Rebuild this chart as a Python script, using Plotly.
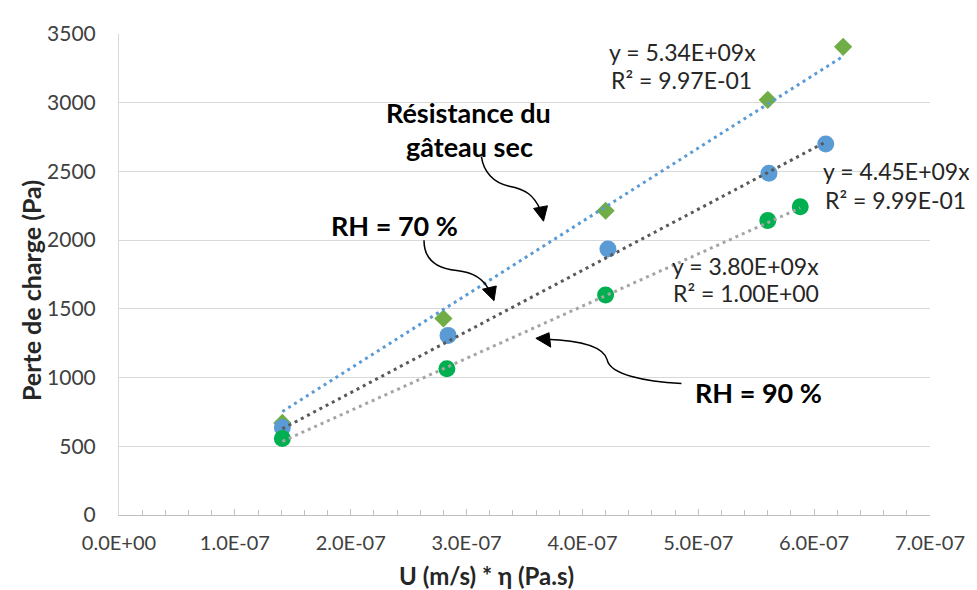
import plotly.graph_objects as go

# ---- data ----
x_dry = [1.41e-7, 2.80e-7, 4.20e-7, 5.60e-7, 6.25e-7]
y_dry = [670, 1430, 2214, 3021, 3407]
x_rh70 = [1.41e-7, 2.84e-7, 4.22e-7, 5.61e-7, 6.10e-7]
y_rh70 = [636, 1307, 1936, 2486, 2700]
x_rh90 = [1.41e-7, 2.83e-7, 4.20e-7, 5.60e-7, 5.88e-7]
y_rh90 = [557, 1064, 1600, 2143, 2243]
slopes = [5.34e9, 4.45e9, 3.80e9]
r2_labels = ["9.97E-01", "9.99E-01", "1.00E+00"]
x_tick_vals = [0, 1e-7, 2e-7, 3e-7, 4e-7, 5e-7, 6e-7, 7e-7]
x_tick_labels = ["0.0E+00", "1.0E-07", "2.0E-07", "3.0E-07", "4.0E-07", "5.0E-07", "6.0E-07", "7.0E-07"]
y_tick_vals = [0, 500, 1000, 1500, 2000, 2500, 3000, 3500]

# window geometry (page body has an 8px margin)
OFF = 8
WIN_W, WIN_H = 977, 590
L, R, T, B = 119, 938, 25, 515
FONT = "Lato"

def pp(x, y):
    return (x - L) / (R - L), (B - y) / (B - T)

def path(cmds):
    out = []
    for c in cmds:
        if isinstance(c, str):
            out.append(c)
        else:
            a, b = pp(*c)
            out.append(f"{a:.5f},{b:.5f}")
    return " ".join(out)

fig = go.Figure()

fig.add_trace(go.Scatter(x=x_dry, y=y_dry, mode="markers",
                         marker=dict(symbol="diamond", size=14, color="#70AD47"), showlegend=False))
fig.add_trace(go.Scatter(x=x_rh70, y=y_rh70, mode="markers",
                         marker=dict(symbol="circle", size=17, color="#5B9BD5"), showlegend=False))
fig.add_trace(go.Scatter(x=x_rh90, y=y_rh90, mode="markers",
                         marker=dict(symbol="circle", size=17, color="#00B050"), showlegend=False))

trend_colors = ["#5B9BD5", "#595959", "#A5A5A5"]
for xs, s, c in zip([x_dry, x_rh70, x_rh90], slopes, trend_colors):
    xt = [min(xs), max(xs)]
    yt = [s * v for v in xt]
    fig.add_trace(go.Scatter(x=xt, y=yt, mode="lines",
                             line=dict(color=c, width=3, dash="3px,4px"), showlegend=False))

ann = []
eq_pos = [((612, 43), (614, 72)), ((828, 165), (830, 194)), ((675, 261), (676, 289))]
for s, r2, (p1, p2) in zip(slopes, r2_labels, eq_pos):
    mant = s / 1e9
    for txt, p in ((f"y = {mant:.2f}E+09x", p1), (f"R² = {r2}", p2)):
        a, b = pp(*p)
        ann.append(dict(x=a, y=b, xref="paper", yref="paper", text=txt, showarrow=False,
                        xanchor="left", yanchor="middle",
                        font=dict(family=FONT, size=23, color="#262626")))

bold_labels = [("Résistance du", 472, 105), ("gâteau sec", 473, 140),
               ("RH = 70 %", 397, 220), ("RH = 90 %", 765, 390)]
for txt, x, y in bold_labels:
    a, b = pp(x, y)
    ann.append(dict(x=a, y=b, xref="paper", yref="paper", text=f"<b>{txt}</b>", showarrow=False,
                    xanchor="center", yanchor="middle",
                    font=dict(family=FONT, size=27, color="#000000")))

# axis titles
a, b = pp(490, 577)
ann.append(dict(x=a, y=b, xref="paper", yref="paper", text="<b>U (m/s) * η (Pa.s)</b>", showarrow=False,
                xanchor="center", yanchor="middle", font=dict(family=FONT, size=24, color="#262626")))
a, b = pp(30, 286)
ann.append(dict(x=a, y=b, xref="paper", yref="paper", text="<b>Perte de charge (Pa)</b>", showarrow=False,
                xanchor="center", yanchor="middle", textangle=-90,
                font=dict(family=FONT, size=25, color="#262626")))

shapes = []
curves = [
    ["M", (485, 150), "C", (487, 165), (497, 177), (513, 180), "C", (530, 183), (538, 190), (544, 203)],
    ["M", (427, 235), "C", (427, 255), (440, 264), (460, 266), "C", (478, 268), (488, 275), (493, 287)],
    ["M", (687, 381), "C", (650, 379), (615, 372), (612, 357), "C", (608, 342), (580, 337), (550, 336)],
]
heads = [
    [(537.7, 202.7), (551.7, 200), (547.7, 215.7)],
    [(486, 285), (500, 281.7), (497.7, 296.7)],
    [(540, 335), (553.3, 329.3), (555, 344)],
]
for cv in curves:
    shapes.append(dict(type="path", xref="paper", yref="paper", path=path(cv),
                       line=dict(color="#000000", width=1.5)))
for hd in heads:
    cmds = ["M", hd[0], "L", hd[1], "L", hd[2], "Z"]
    shapes.append(dict(type="path", xref="paper", yref="paper", path=path(cmds),
                       fillcolor="#000000", line=dict(color="#000000", width=1)))

fig.update_layout(
    width=WIN_W - OFF, height=WIN_H - OFF,
    margin=dict(l=L - OFF, r=WIN_W - R, t=T - OFF, b=WIN_H - B, pad=0),
    paper_bgcolor="white", plot_bgcolor="white",
    annotations=ann, shapes=shapes,
    xaxis=dict(range=[0, 7e-7], tickvals=x_tick_vals, ticktext=x_tick_labels,
               showgrid=False, zeroline=False, showline=True, linecolor="#BFBFBF", linewidth=1,
               ticks="inside", ticklen=6, tickcolor="#BFBFBF",
               minor=dict(dtick=2e-8, ticks="inside", ticklen=5, tickcolor="#BFBFBF", showgrid=False),
               tickfont=dict(family=FONT, size=20, color="#404040"), ticklabelstandoff=10),
    yaxis=dict(range=[0, 3500], tickvals=y_tick_vals,
               showgrid=True, gridcolor="#D9D9D9", gridwidth=1, zeroline=False,
               showline=True, linecolor="#D9D9D9", linewidth=1, ticks="",
               tickfont=dict(family=FONT, size=21, color="#404040"), ticklabelstandoff=18),
)

fig.write_html("out.html")
